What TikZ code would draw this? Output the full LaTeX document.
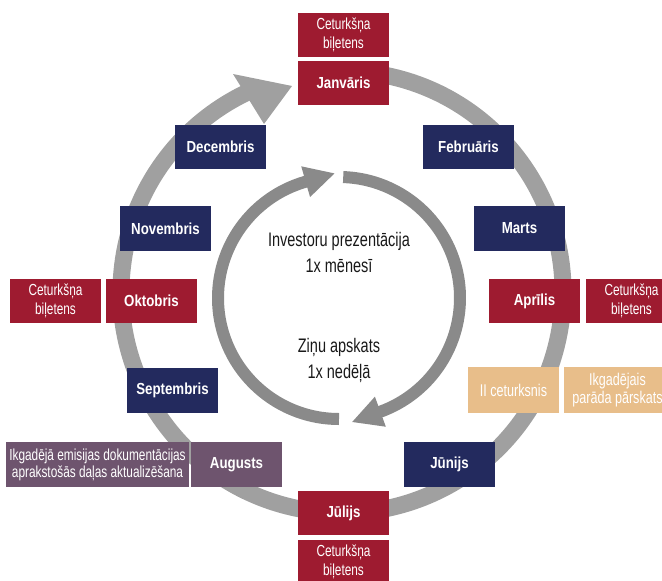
\documentclass[tikz,border=0pt]{standalone}
\usepackage{fontspec}
\setmainfont{Liberation Sans}
\newfontfamily\condf{Liberation Sans}[FakeStretch=0.74]
\newfontfamily\condb{Liberation Sans}[FakeStretch=0.83]
\usetikzlibrary{calc}
\definecolor{cred}{HTML}{9E1B30}
\definecolor{cnavy}{HTML}{232A5E}
\definecolor{ctan}{HTML}{E8BE8A}
\definecolor{cpurple}{HTML}{6E546E}
\definecolor{ringgray}{HTML}{A0A0A0}
\definecolor{innergray}{HTML}{8A8A8A}
\begin{document}
\begin{tikzpicture}[x=1pt,y=1pt,
  box/.style={rectangle, inner sep=0pt, minimum width=91pt, minimum height=44pt, text=white, align=center},
  month/.style={box, font=\condb\bfseries\fontsize{16}{19}\selectfont},
  note/.style={box, font=\condf\fontsize{16}{18.5}\selectfont},
  tannote/.style={box, minimum height=46pt, font=\condf\fontsize{17}{18}\selectfont},
  pnote/.style={box, font=\condf\fontsize{16}{17}\selectfont},
  centertext/.style={align=center, text=black!90, inner sep=0pt, font=\condf\fontsize{19.6}{26}\selectfont},
  outerring/.style={draw=ringgray, line width=17pt},
  innerring/.style={draw=innergray, line width=12pt}
]
\path[use as bounding box] (0,0) rectangle (662,-581);
\clip (0,0) rectangle (662,-581);

% outer ring with arrow head
\coordinate (O) at (342,-292);
\path[outerring] ($(O)+(80:221)$) arc[start angle=80, end angle=-245, radius=221];
\coordinate (ha) at (233,-74);
\coordinate (hb) at (292,-86);
\coordinate (hc) at (264,-124);
\fill[ringgray] (ha) -- (hb) -- (hc) -- cycle;

% inner ring: two arrows
\coordinate (I) at (339,-298);
\path[innerring] ($(I)+(88:121)$) arc[start angle=88, end angle=-72, radius=121];
\fill[innergray] ($(I)+(-70:105)$) -- ($(I)+(-70:137)$) -- ($(I)+(-70:121)+(-160:30)$) -- cycle;
\path[innerring] ($(I)+(270:121)$) arc[start angle=270, end angle=104, radius=121];
\fill[innergray] ($(I)+(106:105)$) -- ($(I)+(106:137)$) -- ($(I)+(106:121)+(16:30)$) -- cycle;

% centre texts
\node[centertext] (inv) at (339,-252) {Investoru prezentācija\\1x mēnesī};
\node[centertext] (zin) at (339,-360) {Ziņu apskats\\1x nedēļā};

% boxes
\node[note, fill=cred] (cetT) at (343.5,-35) {Ceturkšņa\\biļetens};
\node[month, fill=cred] (jan) at (343.5,-83) {Janvāris};
\node[month, fill=cnavy] (feb) at (468.5,-147) {Februāris};
\node[month, fill=cnavy] (dec) at (220.5,-147) {Decembris};
\node[month, fill=cnavy, minimum height=45pt] (mar) at (519.5,-228.5) {Marts};
\node[month, fill=cnavy, minimum height=45pt] (nov) at (165.5,-228.5) {Novembris};
\node[month, fill=cred] (apr) at (534.5,-301) {Aprīlis};
\node[note, fill=cred] (cetR) at (631.5,-301) {Ceturkšņa\\biļetens};
\node[month, fill=cred] (okt) at (151.5,-301) {Oktobris};
\node[note, fill=cred] (cetL) at (55.5,-301) {Ceturkšņa\\biļetens};
\node[tannote, fill=ctan] (q2) at (513.5,-390) {II ceturksnis};
\node[tannote, fill=ctan, minimum width=107pt] (ikg) at (617.5,-390) {Ikgadējais\\parāda pārskats};
\node[month, fill=cnavy, minimum height=45pt] (sep) at (172.5,-390.5) {Septembris};
\node[month, fill=cpurple, minimum height=45pt] (aug) at (236.5,-464.5) {Augusts};
\node[pnote, fill=cpurple, minimum width=183pt, minimum height=45pt] (emi) at (97.5,-464.5) {Ikgadējā emisijas dokumentācijas\\aprakstošās daļas aktualizēšana};
\node[month, fill=cnavy, minimum height=45pt] (jun) at (449.5,-464.5) {Jūnijs};
\node[month, fill=cred] (jul) at (343.5,-513) {Jūlijs};
\node[note, fill=cred] (cetB) at (343.5,-562) {Ceturkšņa\\biļetens};
\end{tikzpicture}
\end{document}
